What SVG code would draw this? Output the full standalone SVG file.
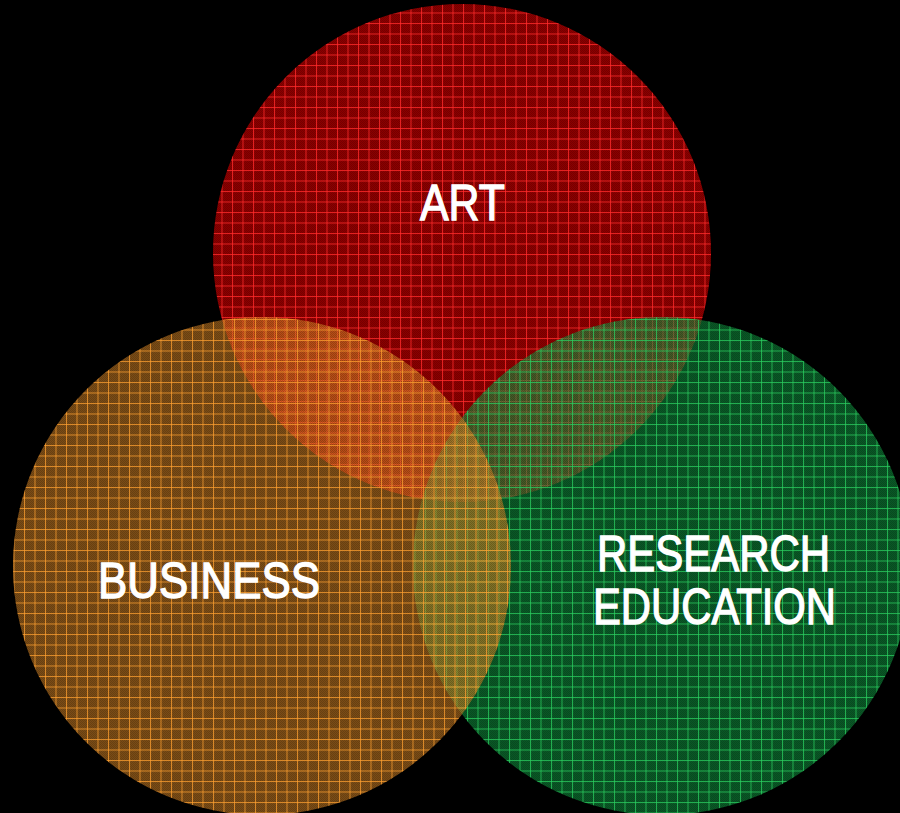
<svg xmlns="http://www.w3.org/2000/svg" width="900" height="813" viewBox="0 0 900 813">
  <defs>
    <style>
      .lbl { font-family: "Liberation Sans", "DejaVu Sans", Arial, sans-serif; font-weight: normal; font-size: 50px; fill: #ffffff; stroke: #ffffff; stroke-width: 1.3px; }
    </style>
    <pattern id="dither" patternUnits="userSpaceOnUse" width="2" height="2">
      <rect x="0" y="0" width="1" height="1" fill="#000" fill-opacity="0.16"/>
      <rect x="1" y="1" width="1" height="1" fill="#000" fill-opacity="0.16"/>
    </pattern>
    <pattern id="gridArt" patternUnits="userSpaceOnUse" width="10.5" height="10.5" x="1" y="2">
      <rect x="0" y="0" width="1" height="10.5" fill="#ff2a2a" fill-opacity="0.8"/>
      <rect x="0" y="0" width="10.5" height="1" fill="#ff2a2a" fill-opacity="0.8"/>
    </pattern>
    <pattern id="gridBus" patternUnits="userSpaceOnUse" width="10.5" height="10.5" x="3" y="4">
      <rect x="0" y="0" width="1" height="10.5" fill="#ffa030" fill-opacity="0.75"/>
      <rect x="0" y="0" width="10.5" height="1" fill="#ffa030" fill-opacity="0.75"/>
    </pattern>
    <pattern id="gridRes" patternUnits="userSpaceOnUse" width="10.5" height="10.5" x="5" y="4">
      <rect x="0" y="0" width="1" height="10.5" fill="#2ad060" fill-opacity="0.75"/>
      <rect x="0" y="0" width="10.5" height="1" fill="#2ad060" fill-opacity="0.75"/>
    </pattern>
  </defs>
  <rect width="900" height="813" fill="#000000"/>

  <g id="art">
    <circle cx="462" cy="253" r="249" fill="#ff0000" fill-opacity="0.55"/>
    <circle cx="462" cy="253" r="249" fill="url(#dither)"/>
    <circle cx="462" cy="253" r="249" fill="url(#gridArt)"/>
  </g>
  <g id="research-education">
    <circle cx="662" cy="566" r="249" fill="#12a046" fill-opacity="0.55"/>
    <circle cx="662" cy="566" r="249" fill="url(#dither)"/>
    <circle cx="662" cy="566" r="249" fill="url(#gridRes)"/>
  </g>
  <g id="business">
    <circle cx="262" cy="566" r="249" fill="#e08a28" fill-opacity="0.55"/>
    <circle cx="262" cy="566" r="249" fill="url(#dither)"/>
    <circle cx="262" cy="566" r="249" fill="url(#gridBus)"/>
  </g>

  <g id="labels">
    <text class="lbl" x="420" y="220" textLength="85" lengthAdjust="spacingAndGlyphs">ART</text>
    <text class="lbl" x="98" y="598" textLength="222" lengthAdjust="spacingAndGlyphs">BUSINESS</text>
    <text class="lbl" x="597" y="571" textLength="233" lengthAdjust="spacingAndGlyphs">RESEARCH</text>
    <text class="lbl" x="593" y="624" textLength="243" lengthAdjust="spacingAndGlyphs">EDUCATION</text>
  </g>
</svg>
